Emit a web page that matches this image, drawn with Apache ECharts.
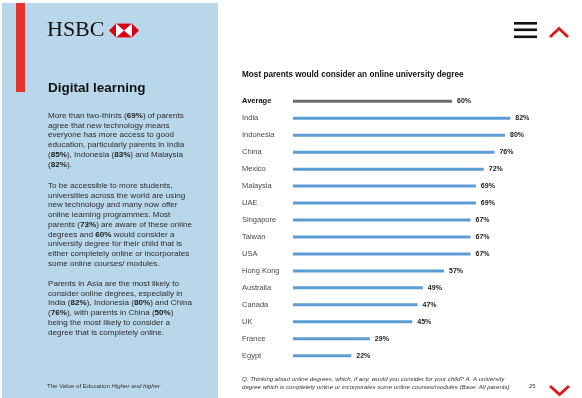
<!DOCTYPE html>
<html>
<head>
<meta charset="utf-8">
<title>Digital learning</title>
<style>
  html, body { margin: 0; padding: 0; background: #fff; }
  #chart { width: 582px; height: 398px; }
</style>
</head>
<body>
<div id="chart"></div>
<script src="https://cdn.jsdelivr.net/npm/echarts@6/dist/echarts.min.js"></script>
<script>
// data
var countries = ['Average', 'India', 'Indonesia', 'China', 'Mexico', 'Malaysia', 'UAE', 'Singapore',
  'Taiwan', 'USA', 'Hong Kong', 'Australia', 'Canada', 'UK', 'France', 'Egypt'];
var shares = [60, 82, 80, 76, 72, 69, 69, 67, 67, 67, 57, 49, 47, 45, 29, 22];

var para1 = [
  'More than two-thirds ({b|69%}) of parents',
  'agree that new technology means',
  'everyone has more access to good',
  'education, particularly parents in India',
  '({b|85%}), Indonesia ({b|83%}) and Malaysia',
  '({b|82%}).'
];
var para2 = [
  'To be accessible to more students,',
  'universities across the world are using',
  'new technology and many now offer',
  'online learning programmes. Most',
  'parents ({b|73%}) are aware of these online',
  'degrees and {b|60%} would consider a',
  'university degree for their child that is',
  'either completely online or incorporates',
  'some online courses/ modules.'
];
var para3 = [
  'Parents in Asia are the most likely to',
  'consider online degrees, especially in',
  'India ({b|82%}), Indonesia ({b|80%}) and China',
  '({b|76%}), with parents in China ({b|50%})',
  'being the most likely to consider a',
  'degree that is completely online.'
];

var FONT = '"Liberation Sans", Arial, Helvetica, sans-serif';
var LH = 9.7;

function para(lines, top) {
  return {
    type: 'text', left: 48, top: top, z: 10,
    style: {
      text: lines.join('\n'),
      font: '8.1px ' + FONT,
      fill: '#2b2b2b',
      lineHeight: LH,
      rich: {
        b: { fontWeight: 'bold', fontSize: 8.1, fontFamily: FONT, fill: '#1a1a1a', lineHeight: LH }
      }
    }
  };
}

var myChart = echarts.init(document.getElementById('chart'));

var option = {
  backgroundColor: '#fff',
  animation: false,
  grid: { left: 293, right: 24, top: 92.8, bottom: 33.8 },
  xAxis: { type: 'value', min: 0, max: 100, show: false },
  yAxis: {
    type: 'category',
    data: countries,
    inverse: true,
    axisLine: { show: false },
    axisTick: { show: false },
    axisLabel: {
      align: 'left',
      margin: 51,
      fontSize: 7.5,
      fontFamily: FONT,
      color: '#4a4a4a',
      formatter: function (v) { return v === 'Average' ? '{avg|' + v + '}' : v; },
      rich: { avg: { fontWeight: 'bold', color: '#111', fontSize: 7.5, fontFamily: FONT } }
    }
  },
  series: [{
    type: 'bar',
    data: shares.map(function (v, i) {
      return { value: v, itemStyle: { color: i === 0 ? '#6b6b6b' : '#5b9dd4' } };
    }),
    barWidth: 3,
    label: {
      show: true,
      position: 'right',
      distance: 5,
      formatter: '{c}%',
      fontSize: 7,
      fontWeight: 'bold',
      fontFamily: FONT,
      color: '#222'
    }
  }],
  graphic: [
    // left panel
    { type: 'rect', shape: { x: 2, y: 3, width: 216, height: 395 }, style: { fill: '#b9d7ea' }, z: 1 },
    { type: 'rect', shape: { x: 16, y: 3, width: 9, height: 89 }, style: { fill: '#e7332a' }, z: 2 },
    // HSBC logo
    { type: 'text', left: 47, top: 19, z: 10,
      style: { text: 'HSBC', font: '22px "Liberation Serif", "Times New Roman", serif', fill: '#111' } },
    { type: 'polygon', z: 10, shape: { points: [[109, 30.5], [116, 23.5], [132, 23.5], [139, 30.5], [132, 37.5], [116, 37.5]] },
      style: { fill: '#fff' } },
    { type: 'polygon', z: 11, shape: { points: [[109, 30.5], [116, 23.5], [116, 37.5]] }, style: { fill: '#db0011' } },
    { type: 'polygon', z: 11, shape: { points: [[139, 30.5], [132, 23.5], [132, 37.5]] }, style: { fill: '#db0011' } },
    { type: 'polygon', z: 11, shape: { points: [[116, 23.5], [132, 23.5], [124, 30.5]] }, style: { fill: '#db0011' } },
    { type: 'polygon', z: 11, shape: { points: [[116, 37.5], [132, 37.5], [124, 30.5]] }, style: { fill: '#db0011' } },
    // heading and body text
    { type: 'text', left: 48, top: 81, z: 10,
      style: { text: 'Digital learning', font: 'bold 13.5px ' + FONT, fill: '#111' } },
    para(para1, 111),
    para(para2, 181),
    para(para3, 279),
    { type: 'text', left: 47, top: 383, z: 10,
      style: {
        text: 'The Value of Education {i|Higher and higher}',
        font: '6.1px ' + FONT, fill: '#333',
        rich: { i: { fontStyle: 'italic', fontSize: 6.1, fontFamily: FONT, fill: '#333' } }
      } },
    // chart title
    { type: 'text', left: 242, top: 71, z: 10,
      style: { text: 'Most parents would consider an online university degree', font: 'bold 8.2px ' + FONT, fill: '#111' } },
    // footnote
    { type: 'text', left: 242, top: 375, z: 10,
      style: {
        text: 'Q. Thinking about online degrees, which, if any, would you consider for your child? A. A university\ndegree which is completely online or incorporates some online courses/modules (Base: All parents)',
        font: 'italic 6.1px ' + FONT, fill: '#333', lineHeight: 8
      } },
    { type: 'text', left: 529, top: 383, z: 10,
      style: { text: '25', font: '6px ' + FONT, fill: '#333' } },
    // nav icons
    { type: 'rect', shape: { x: 514, y: 22, width: 23, height: 2.6 }, style: { fill: '#111' }, z: 10 },
    { type: 'rect', shape: { x: 514, y: 28.5, width: 23, height: 2.6 }, style: { fill: '#111' }, z: 10 },
    { type: 'rect', shape: { x: 514, y: 35.5, width: 23, height: 2.6 }, style: { fill: '#111' }, z: 10 },
    { type: 'polyline', z: 10, shape: { points: [[550, 37], [559, 28.5], [568, 37]] },
      style: { stroke: '#db1f1f', lineWidth: 3, fill: null } },
    { type: 'polyline', z: 10, shape: { points: [[550, 386], [559.5, 394.5], [569, 386]] },
      style: { stroke: '#db1f1f', lineWidth: 3, fill: null } }
  ]
};

myChart.setOption(option);
</script>
</body>
</html>
